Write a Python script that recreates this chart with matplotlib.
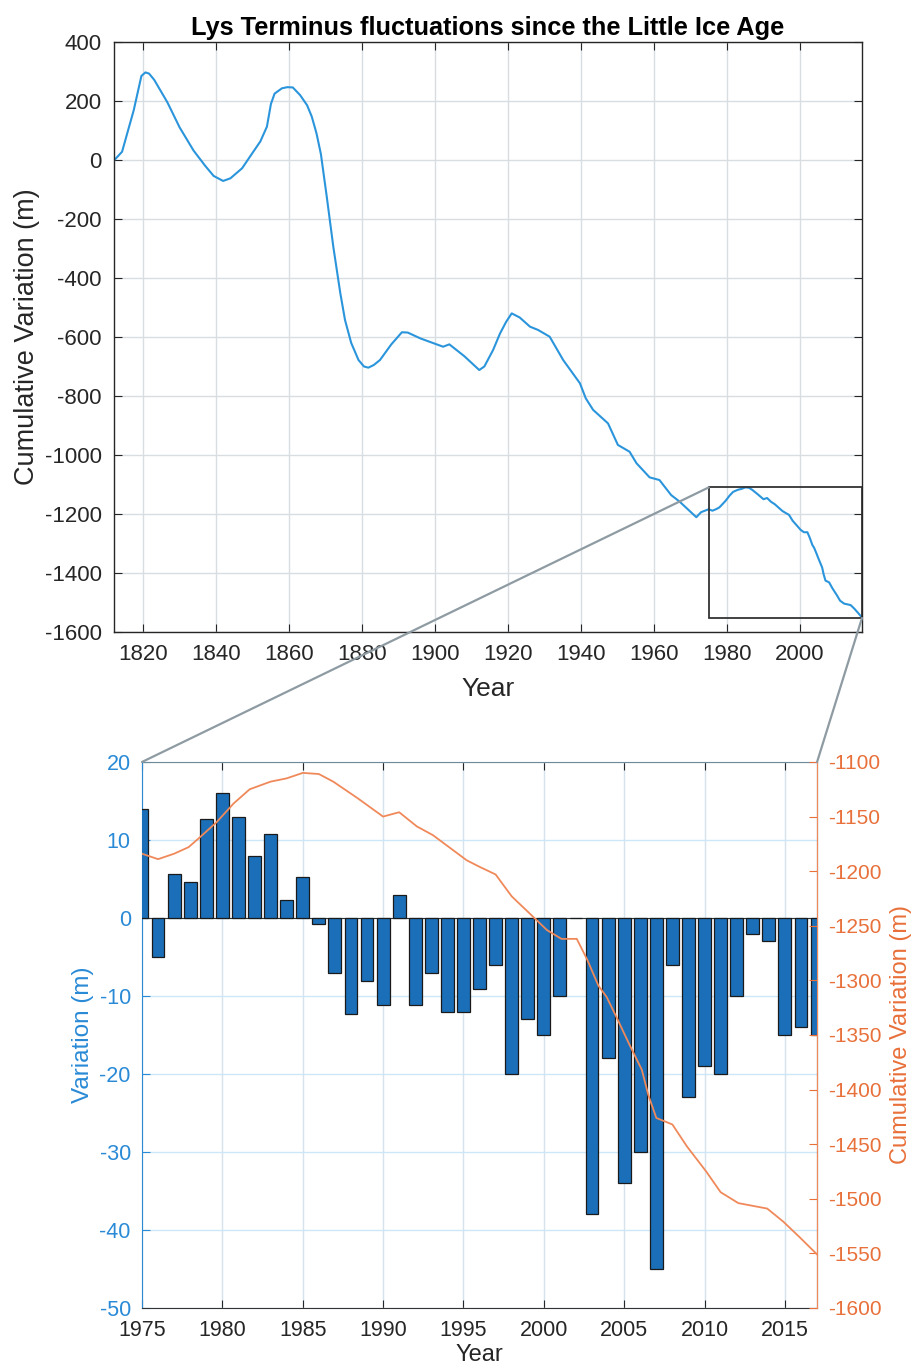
import numpy as np
import matplotlib
matplotlib.use("Agg")
import matplotlib.pyplot as plt
from matplotlib.patches import Rectangle, ConnectionPatch

plt.rcParams['font.family'] = ['Liberation Sans', 'DejaVu Sans']
plt.rcParams['axes.unicode_minus'] = False

# long record, 1812 - 1973
long_years = [1812.1, 1814.2, 1817.4, 1819.5, 1820.6, 1821.6, 1823.0, 1826.6, 1830.0,
              1833.8, 1837.0, 1839.3, 1841.9, 1843.9, 1847.1, 1850.0, 1852.1, 1853.9,
              1855.0, 1856.0, 1858.0, 1859.5, 1861.0, 1863.0, 1864.9, 1866.2, 1867.5,
              1868.7, 1870.3, 1872.1, 1874.0, 1875.3, 1877.0, 1879.0, 1880.5, 1881.7,
              1883.2, 1884.9, 1888.0, 1890.9, 1892.5, 1896.0, 1902.2, 1903.9, 1908.0,
              1912.1, 1913.5, 1915.9, 1917.8, 1919.5, 1921.0, 1923.2, 1926.0, 1928.2,
              1931.4, 1935.1, 1939.7, 1941.3, 1943.3, 1947.4, 1950.1, 1953.3, 1955.2,
              1958.8, 1961.5, 1964.7, 1967.0, 1971.6, 1972.9]
long_values = [0, 28, 169, 285, 297, 293, 272, 196, 110,
               32, -20, -54, -71, -62, -28, 25, 63, 113,
               190, 225, 243, 247, 246, 220, 186, 147, 90,
               20, -124, -294, -450, -542, -620, -678, -700, -704,
               -695, -678, -625, -584, -585, -605, -633, -625, -665,
               -712, -700, -644, -588, -548, -520, -534, -565, -576,
               -599, -678, -757, -808, -847, -893, -966, -989, -1028,
               -1076, -1085, -1136, -1158, -1211, -1194]

# cumulative variation 1975 - 2017 (orange line, bottom panel)
cum_years = [1975.0, 1976.0, 1977.0, 1977.9, 1978.6, 1979.65, 1980.7, 1981.7, 1983.0,
             1984.0, 1985.0, 1986.0, 1986.9, 1988.4, 1990.0, 1991.0, 1992.1, 1993.1,
             1995.2, 1996.0, 1997.0, 1998.0, 1999.35, 2000.2, 2001.1, 2002.05, 2002.7,
             2003.4, 2003.9, 2004.5, 2005.3, 2006.1, 2006.5, 2007.0, 2008.0, 2008.9,
             2010.1, 2011.0, 2012.1, 2013.9, 2014.9, 2015.9, 2017.0]
cum_values = [-1184, -1189, -1184, -1178, -1169, -1155, -1138, -1125, -1118,
              -1115, -1110, -1111, -1118, -1133, -1150, -1146, -1159, -1167,
              -1190, -1196, -1203, -1223, -1242, -1254, -1262, -1262, -1281,
              -1305, -1315, -1333, -1358, -1382, -1405, -1426, -1432, -1452,
              -1475, -1494, -1504, -1509, -1521, -1535, -1551]

# annual variation (bars)
bar_years = list(range(1975, 2018))
bar_values = [14, -5, 5.7, 4.6, 12.7, 16, 13, 8, 10.8, 2.3, 5.3, -0.8, -7.1, -12.3, -8.1,
              -11.1, 3, -11.1, -7.1, -12.1, -12.1, -9.1, -6, -20, -13, -15, -10, 0,
              -38, -18, -34, -30, -45, -6, -23, -19, -20, -10, -2, -3, -15, -14, -15]

blue_line = '#2b95dc'
bar_blue = '#1a6fb8'
axis_blue = '#2a8ad6'
orange = '#f0895a'
orange_txt = '#e8703a'
dark = '#262626'

fig = plt.figure(figsize=(9.16, 13.69), dpi=100)

# ---- top panel
ax1 = fig.add_axes([0.1245, 0.5384, 0.8165, 0.4309])
ax1.plot(long_years + cum_years, long_values + cum_values, color=blue_line, lw=1.5)
ax1.set_xlim(1812, 2017)
ax1.set_ylim(-1600, 400)
ax1.set_xticks(np.arange(1820, 2001, 20))
ax1.set_yticks(np.arange(-1600, 401, 200))
ax1.grid(True, color='#d8dde2', lw=1.0)
ax1.set_axisbelow(True)
ax1.tick_params(direction='in', top=True, right=True, labelsize=16, colors=dark,
                length=6, pad=9)
for s in ax1.spines.values():
    s.set_color(dark)
    s.set_linewidth(1.0)
ax1.set_title('Lys Terminus fluctuations since the Little Ice Age', fontsize=18.3,
              fontweight='bold', pad=5)
ax1.set_xlabel('Year', fontsize=19, color=dark, labelpad=8)
ax1.set_ylabel('Cumulative Variation (m)', fontsize=19.5, color=dark, labelpad=3)

box_lo, box_hi = min(cum_values) - 2, max(cum_values)
rect = Rectangle((cum_years[0], box_lo), cum_years[-1] - cum_years[0], box_hi - box_lo,
                 fill=False, ec='#333333', lw=1.3, zorder=5)
ax1.add_patch(rect)

# ---- bottom panel
ax2 = fig.add_axes([0.155, 0.0446, 0.737, 0.3988])
ax2.bar(bar_years, bar_values, width=0.8, color=bar_blue, edgecolor='#1a1a1a', lw=0.9,
        zorder=3)
ax2.axhline(0, color='#333333', lw=0.8, zorder=2)
ax2.set_xlim(1975, 2017)
ax2.set_ylim(-50, 20)
ax2.set_xticks(np.arange(1975, 2016, 5))
ax2.set_yticks(np.arange(-50, 21, 10))
ax2.xaxis.grid(True, color='#d6e2ec', lw=1.0)
ax2.yaxis.grid(True, color='#cde6f8', lw=1.0)
ax2.set_axisbelow(True)
ax2.tick_params(axis='x', direction='in', top=True, labelsize=15.5, colors=dark, length=6,
                pad=9)
ax2.tick_params(axis='y', direction='in', labelsize=15.5, colors=axis_blue, length=6, pad=8)
ax2.spines['left'].set_color(axis_blue)
ax2.spines['bottom'].set_color('#333333')
ax2.spines['top'].set_color('#6f8a99')
ax2.set_xlabel('Year', fontsize=17, color=dark, labelpad=2)
ax2.set_ylabel('Variation (m)', fontsize=17.5, color=axis_blue, labelpad=4)

ax3 = ax2.twinx()
ax3.plot(cum_years, cum_values, color=orange, lw=1.3, zorder=4)
ax3.set_ylim(-1600, -1100)
ax3.set_yticks(np.arange(-1600, -1099, 50))
ax3.tick_params(axis='y', direction='in', labelsize=15, colors=orange_txt, length=6,
                pad=8)
ax3.spines['right'].set_color(orange)
ax3.spines['left'].set_visible(False)
ax3.spines['top'].set_visible(False)
ax3.spines['bottom'].set_visible(False)
ax3.set_ylabel('Cumulative Variation (m)', fontsize=17, color=orange_txt, labelpad=6)

# ---- zoom connectors
for xa, ya, xb in [(cum_years[0], box_hi, 0.0), (cum_years[-1], box_lo, 1.0)]:
    con = ConnectionPatch(xyA=(xa, ya), coordsA='data', axesA=ax1,
                          xyB=(xb, 1.0), coordsB='axes fraction', axesB=ax2,
                          color='#8e9ba2', lw=1.6)
    fig.add_artist(con)

fig.savefig('out.png', dpi=100)
